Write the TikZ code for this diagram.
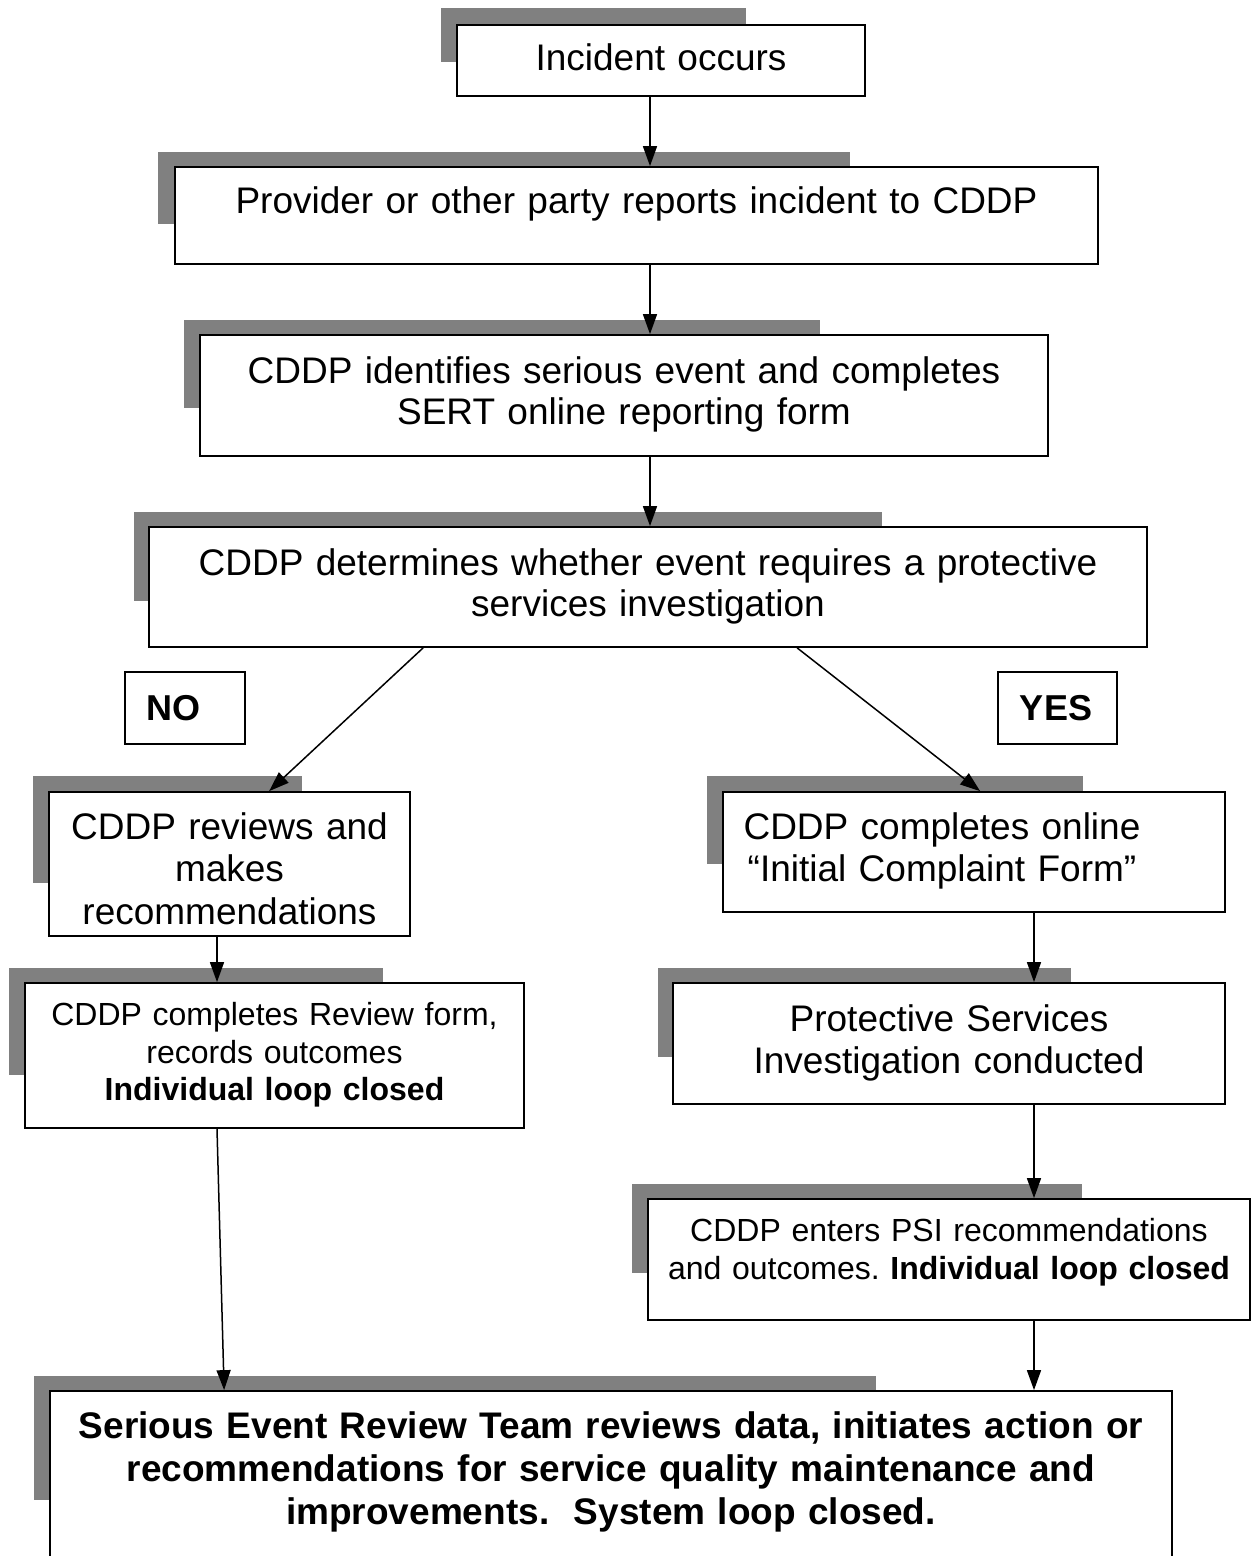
\documentclass[tikz,border=0pt]{standalone}
\usepackage{fontspec}
\setmainfont{Liberation Sans}
\usetikzlibrary{arrows.meta,calc}
\frenchspacing
\tikzset{
  shade/.style={fill=shadowgray,draw=none},
  boxnode/.style={draw=black,line width=1.75pt,fill=white,inner sep=0pt},
  txt/.style={inner sep=0pt,anchor=base,align=center},
  big/.style={font=\fontsize{37}{41.5}\selectfont},
  small/.style={font=\fontsize{32}{37.5}\selectfont},
  arr/.style={line width=1.5pt,-{Triangle[length=20pt,width=14pt]}}
}
\definecolor{shadowgray}{RGB}{128,128,128}
\begin{document}
\begin{tikzpicture}[x=1pt,y=-1pt]
\clip (0,0) rectangle (1251,1556);
\fill[white] (0,0) rectangle (1251,1556);
\coordinate (cM) at (650,0);
\coordinate (cL) at (217,0);
\coordinate (cR) at (1034,0);
% shadows
\fill[shade] (441,8) rectangle (746,62);
\fill[shade] (158,152) rectangle (850,224);
\fill[shade] (184,320) rectangle (820,408);
\fill[shade] (134,512) rectangle (882,601);
\fill[shade] (33,776) rectangle (302,883);
\fill[shade] (707,776) rectangle (1083,864);
\fill[shade] (9,968) rectangle (383,1075);
\fill[shade] (658,968) rectangle (1071,1057);
\fill[shade] (632,1184) rectangle (1082,1273);
\fill[shade] (34,1376) rectangle (876,1500);
% boxes
\node[boxnode,minimum width=408pt,minimum height=71pt] (b1) at (661,60.5) {};
\node[boxnode,minimum width=923pt,minimum height=97pt] (b2) at (636.5,215.5) {};
\node[boxnode,minimum width=848pt,minimum height=121pt] (b3) at (624,395.5) {};
\node[boxnode,minimum width=998pt,minimum height=120pt] (b4) at (648,587) {};
\node[boxnode,minimum width=120pt,minimum height=72pt] (no) at (185,708) {};
\node[boxnode,minimum width=119pt,minimum height=72pt] (yes) at (1057.5,708) {};
\node[boxnode,minimum width=361pt,minimum height=144pt] (b5) at (229.5,864) {};
\node[boxnode,minimum width=502pt,minimum height=120pt] (b6) at (974,852) {};
\node[boxnode,minimum width=499pt,minimum height=145pt] (b7) at (274.5,1055.5) {};
\node[boxnode,minimum width=552pt,minimum height=121pt] (b8) at (949,1043.5) {};
\node[boxnode,minimum width=602pt,minimum height=121pt] (b9) at (949,1259.5) {};
\node[boxnode,minimum width=1122pt,minimum height=189pt] (b10) at (611,1485.5) {};
% texts
\node[txt,big,text width=400pt] (t1) at (661,70) {Incident occurs};
\node[txt,big,text width=900pt] (t2) at (636.5,213) {Provider or other party reports incident to CDDP};
\node[txt,big,text width=840pt] (t3) at (624,383) {CDDP identifies serious event and completes\\SERT online reporting form};
\node[txt,big,text width=990pt] (t4) at (648,575) {CDDP determines whether event requires a protective\\services investigation};
\node[txt,font=\fontsize{36}{40}\selectfont\bfseries] (tno) at (173.5,720) {NO};
\node[txt,font=\fontsize{36}{40}\selectfont\bfseries] (tyes) at (1056,720) {YES};
\node[txt,font=\fontsize{37}{42.5}\selectfont,text width=355pt] (t5) at (229.5,839) {CDDP reviews and\\makes\\recommendations};
\node[txt,font=\fontsize{37}{42.5}\selectfont,text width=480pt] (t6) at (942,839) {CDDP completes online\\“Initial Complaint Form”};
\node[txt,small,text width=495pt] (t7) at (274.5,1025.5) {CDDP completes Review form,\\records outcomes\\\textbf{Individual loop closed}};
\node[txt,font=\fontsize{37}{42}\selectfont,text width=545pt] (t8) at (949,1031) {Protective Services\\Investigation conducted};
\node[txt,font=\fontsize{32}{38}\selectfont,text width=598pt] (t9) at (949,1241.5) {CDDP enters PSI recommendations\\and outcomes. \textbf{Individual loop closed}};
\node[txt,font=\fontsize{37}{43}\selectfont\bfseries,text width=1110pt] (t10) at (611,1438) {Serious Event Review Team reviews data, initiates action or\\recommendations for service quality maintenance and\\improvements.\ \ System loop closed.};
% connectors
\draw[arr] (b1.south -| cM) -- (b2.north -| cM);
\draw[arr] (b2.south -| cM) -- (b3.north -| cM);
\draw[arr] (b3.south -| cM) -- (b4.north -| cM);
\draw[arr] ($(b4.south west)+(275,0)$) -- ($(b5.north west)+(221,0)$);
\draw[arr] ($(b4.south west)+(649,0)$) -- ($(b6.north west)+(258,0)$);
\draw[arr] (b5.south -| cL) -- (b7.north -| cL);
\draw[arr] (b6.south -| cR) -- (b8.north -| cR);
\draw[arr] (b8.south -| cR) -- (b9.north -| cR);
\draw[arr] (b7.south -| cL) -- ($(b10.north west)+(175,0)$);
\draw[arr] (b9.south -| cR) -- (b10.north -| cR);
\end{tikzpicture}
\end{document}
